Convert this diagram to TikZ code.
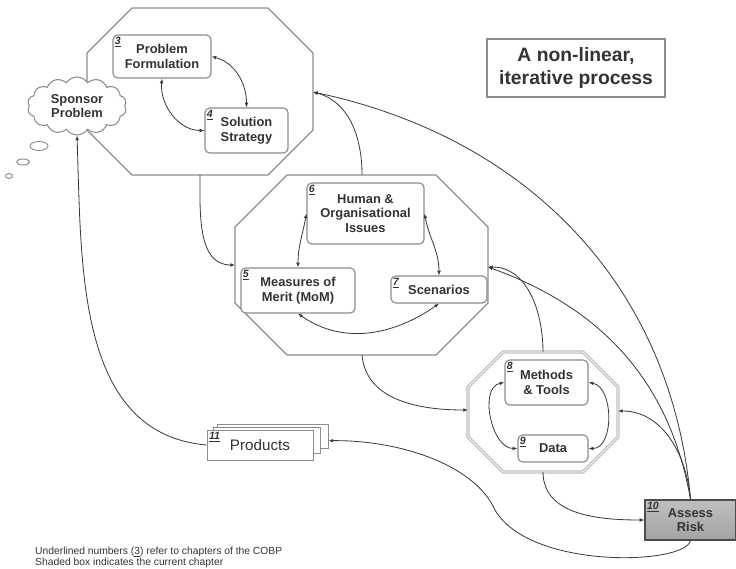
\documentclass[tikz,border=0pt]{standalone}
\usepackage{fontspec}
\setmainfont{Liberation Sans}
\usetikzlibrary{arrows.meta,shapes.symbols,calc}
\definecolor{boxgray}{HTML}{8C8C8C}
\definecolor{linegray}{HTML}{3A3A3A}
\definecolor{textgray}{HTML}{333333}
\tikzset{chapbox/.style={draw=boxgray,line width=1pt,rounded corners=4pt,fill=white,align=center,text=textgray,
    font=\bfseries\fontsize{11}{12.5}\selectfont,inner sep=1pt},
  chapnum/.style={anchor=north west,inner sep=2pt,text=textgray,font=\bfseries\itshape\fontsize{9}{9}\selectfont},
  pagebox/.style={draw=boxgray,line width=0.8pt,fill=white},
  octo/.style={draw=boxgray,line width=1pt},
  link/.style={draw=linegray,line width=0.7pt,>={Latex[length=4pt,width=3.2pt]}}}

\begin{document}
\begin{tikzpicture}[x=0.03cm,y=-0.03cm]
		\useasboundingbox (0,0) rectangle (736,569);
		% the three octagons
		\draw[octo] (132,8) -- (268,8) -- (313,53) -- (313,130) -- (268,175) -- (132,175) -- (87,130) -- (87,53) -- cycle;
		\draw[octo] (287,175) -- (436,175) -- (488,227) -- (488,303) -- (436,355) -- (287,355) -- (235,303) -- (235,227) -- cycle;
		\draw[octo,line width=0.6pt,double=white,double distance=1.1pt] (503,352) -- (583,352) -- (618,387) -- (618,437) -- (583,472) -- (503,472) -- (468,437) -- (468,387) -- cycle;
		\coordinate (o1r) at (313,92);
		\coordinate (o1b) at (200,175);
		\coordinate (o2t) at (362,175);
		\coordinate (o2l) at (235,265);
		\coordinate (o2r) at (488,267);
		\coordinate (o2b) at (362,355);
		\coordinate (o3t) at (543,352);
		\coordinate (o3l) at (468,410);
		\coordinate (o3r) at (618,411);
		\coordinate (o3b) at (543,472);
		% sponsor cloud
		\node[cloud,cloud puffs=14,cloud puff arc=115,aspect=2,inner sep=-1pt,draw=boxgray,line width=0.9pt,fill=white,align=center,text=textgray,
			font=\bfseries\fontsize{11}{12.5}\selectfont,minimum width=2.97cm,minimum height=1.74cm] (cloud) at (77,106) {Sponsor\\Problem};
		\draw[boxgray,line width=0.8pt] (39,146) ellipse (9 and 4.5);
		\draw[boxgray,line width=0.8pt] (23,162) ellipse (6.5 and 3);
		\draw[boxgray,line width=0.8pt] (9,176) ellipse (3.5 and 2.5);
		% chapter boxes
		\node[chapbox,minimum width=2.94cm,minimum height=1.29cm] (pf) at (162,56.5) {Problem\\Formulation};
		\node[chapbox,minimum width=2.49cm,minimum height=1.35cm] (ss) at (246.5,130.5) {Solution\\Strategy};
		\node[chapbox,minimum width=3.51cm,minimum height=1.83cm] (hoi) at (365.5,213.5) {Human \&\\Organisational\\Issues};
		\node[chapbox,minimum width=3.42cm,minimum height=1.35cm] (mom) at (298,290.5) {Measures of\\Merit (MoM)};
		\node[chapbox,minimum width=2.88cm,minimum height=0.81cm] (scen) at (439,289.5) {Scenarios};
		\node[chapbox,minimum width=2.49cm,minimum height=1.35cm] (mt) at (546.5,382.5) {Methods\\\& Tools};
		\node[chapbox,minimum width=2.1cm,minimum height=0.81cm] (data) at (553,448.5) {Data};
		\node[chapbox,sharp corners,draw=gray!60!black,top color=gray!50,middle color=gray!20,bottom color=gray!72,
			minimum width=2.73cm,minimum height=1.2cm] (ar) at (690.5,520) {Assess\\Risk};
		% products, a stack of pages
		\node[pagebox,minimum width=3.33cm,minimum height=0.72cm] (prodc) at (272.5,436) {};
		\node[pagebox,minimum width=3.21cm,minimum height=0.78cm] (prodb) at (266.5,440) {};
		\node[pagebox,minimum width=3.18cm,minimum height=0.9cm,text=textgray,font=\fontsize{13}{13}\selectfont] (prod) at (260,445) {Products};
		% chapter numbers
		\node[chapnum] (n3) at (pf.north west) {\underline{3}};
		\node[chapnum] (n4) at (ss.north west) {\underline{4}};
		\node[chapnum] (n6) at (hoi.north west) {\underline{6}};
		\node[chapnum] (n5) at (mom.north west) {\underline{5}};
		\node[chapnum] (n7) at (scen.north west) {\underline{7}};
		\node[chapnum] (n8) at (mt.north west) {\underline{8}};
		\node[chapnum] (n9) at (data.north west) {\underline{9}};
		\node[chapnum] (n10) at (ar.north west) {\underline{10}};
		\node[chapnum] (n11) at (prod.north west) {\underline{11}};
		% title and note
		\node[draw=boxgray,line width=1pt,align=center,text=textgray,font=\bfseries\fontsize{16.5}{19}\selectfont,
			minimum width=5.34cm,minimum height=1.74cm] (title) at (576,68) {A non-linear,\\iterative process};
		\node[anchor=west,align=left,inner sep=0pt,text=textgray,font=\fontsize{8.8}{9.4}\selectfont] (note) at (35,557)
			{Underlined numbers (\underline{3}) refer to chapters of the COBP\\Shaded box indicates the current chapter};
		% links inside the octagons
		\draw[link,<->] (pf.east) to[out=-15,in=90] (ss.north);
		\draw[link,<->] (pf.south) to[out=-95,in=180] (ss.west);
		\draw[link,<->] (hoi.west) to[out=-100,in=90] (mom.north);
		\draw[link,<->] (hoi.east) to[out=-80,in=90] (scen.north);
		\draw[link,<->] (mom.south) to[out=-35,in=-145] (scen.south);
		\draw[link,<->] (mt.west) to[out=190,in=180] (data.west);
		\draw[link,<->] (mt.east) to[out=-10,in=0] (data.east);
		% links between the octagons
		\draw[link,->] (prod.west) to[out=175,in=-88] (cloud.south);
		\draw[link,->] (o1b) to[out=-90,in=180] (o2l);
		\draw[link,->] (o2t) to[out=90,in=-15] (o1r);
		\draw[link,->] (o2b) to[out=-85,in=180] (o3l);
		\draw[link,->] (o3t) to[out=90,in=0] (o2r);
		\draw[link,->] (o3b) to[out=-90,in=180] (ar.west);
		% links back from assess risk
		\draw[link,->] (ar.north) to[out=95,in=-12] (o1r);
		\draw[link,->] (ar.north) to[out=100,in=-20] (o2r);
		\draw[link,->] (ar.north) to[out=95,in=0] (o3r);
		\draw[link,->] (ar.south) .. controls (685,565) and (530,570) .. (495,510) .. controls (475,465) and (400,440) .. ([yshift=-4pt]prodc.east);
\end{tikzpicture}
\end{document}
